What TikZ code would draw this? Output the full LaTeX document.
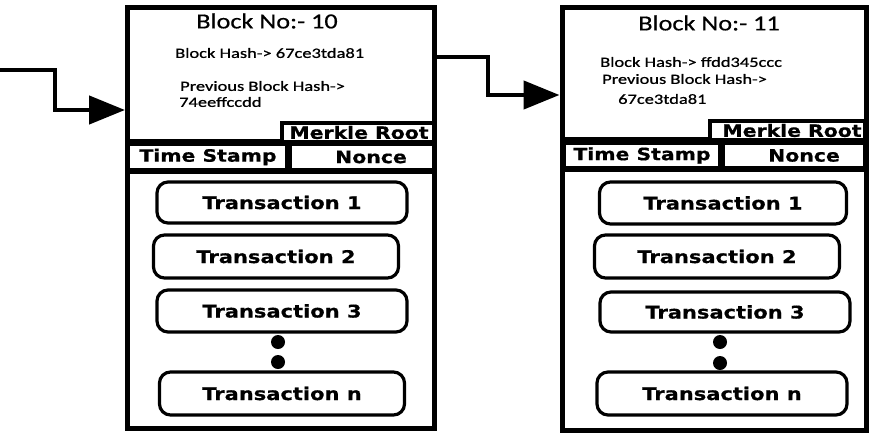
\documentclass[tikz,border=0pt]{standalone}
\usepackage{fontspec}
\usetikzlibrary{arrows.meta}
\newfontfamily\lt{Carlito}[FakeStretch=1.3,FakeBold=0.8]
\newfontfamily\hd{Carlito}[FakeStretch=1.22,FakeBold=0.5]
\newfontfamily\bd{DejaVu Sans}[FakeStretch=1.2,FakeBold=0.6]
\begin{document}
\begin{tikzpicture}[x=1pt,y=-1pt,
  outer/.style={draw,line width=5pt,inner sep=0pt},
  inner/.style={draw,line width=3.2pt},
  tx/.style={draw,line width=3.2pt,rounded corners=11pt,inner sep=0pt,font=\bd\bfseries\fontsize{17.5}{20}\selectfont},
  bl/.style={font=\hd\fontsize{21.5}{24}\selectfont,inner sep=0pt},
  hs/.style={font=\lt\fontsize{14.2}{16}\selectfont,inner sep=0pt,anchor=west},
  lbl/.style={font=\bd\bfseries\fontsize{17}{19}\selectfont,inner sep=0pt},
  dot/.style={circle,fill,inner sep=0pt,minimum size=14pt},
  link/.style={line width=4.5pt,-{Triangle[length=36pt,width=28pt]}}]
\useasboundingbox (0,0) rectangle (869,434);
% ---- block 10
\node[outer,minimum width=307pt,minimum height=421pt] (b1) at (281,217.5) {};
\draw[inner] (127,141) -- (282,141);
\draw[inner] (282,123) rectangle (434,142);
\draw[inner] (127,144) rectangle (287,170);
\draw[inner] (290,144) rectangle (434,170);
\draw[inner] (127,172) -- (434,172);
\node[bl] (n1) at (267,21) {Block No:- 10};
\node[hs] (h1) at (175,53) {Block Hash-> 67ce3tda81};
\node[hs] (p1) at (180,86) {Previous Block Hash->};
\node[hs] (q1) at (179,102) {74eeffccdd};
\node[lbl] (m1) at (359,132.5) {Merkle Root};
\node[lbl] (t1) at (208,157) {Time Stamp};
\node[lbl] (c1) at (371,157) {Nonce};
\node[tx,minimum width=250pt,minimum height=41pt] (a1) at (282,202.5) {Transaction 1};
\node[tx,minimum width=245pt,minimum height=43pt] (a2) at (276,256.5) {Transaction 2};
\node[tx,minimum width=250pt,minimum height=42pt] (a3) at (282,311) {Transaction 3};
\node[dot] (d1) at (278,342) {};
\node[dot] (e1) at (278,362) {};
\node[tx,minimum width=245pt,minimum height=43pt] (an) at (282,393.5) {Transaction n};
% ---- block 11
\node[outer,minimum width=304pt,minimum height=423pt] (b2) at (714,218.5) {};
\draw[inner] (564,139) -- (710,139);
\draw[inner] (710,121) rectangle (865,140);
\draw[inner] (564,143) rectangle (720,168);
\draw[inner] (723,143) rectangle (865,168);
\draw[inner] (564,170) -- (865,170);
\node[bl] (n2) at (709,23) {Block No:- 11};
\node[hs] (h2) at (600,62) {Block Hash-> ffdd345ccc};
\node[hs] (p2) at (602,79) {Previous Block Hash->};
\node[hs] (q2) at (618,99) {67ce3tda81};
\node[lbl] (m2) at (792,130.5) {Merkle Root};
\node[lbl] (t2) at (642,155.5) {Time Stamp};
\node[lbl] (c2) at (804,155.5) {Nonce};
\node[tx,minimum width=247pt,minimum height=42pt] (k1) at (723,203) {Transaction 1};
\node[tx,minimum width=245pt,minimum height=43pt] (k2) at (717,256.5) {Transaction 2};
\node[tx,minimum width=250pt,minimum height=40pt] (k3) at (725,312) {Transaction 3};
\node[dot] (d2) at (720,342) {};
\node[dot] (e2) at (720,363) {};
\node[tx,minimum width=250pt,minimum height=43pt] (kn) at (722,393.5) {Transaction n};
% ---- links
\coordinate (s0) at (0,70);
\draw[link] (s0) -- (55,70) -- (55,110) -- (b1.west |- 0,110);
\draw[link] (b1.east |- 0,57) -- (488,57) -- (488,95) -- (b2.west |- 0,95);
\end{tikzpicture}
\end{document}
